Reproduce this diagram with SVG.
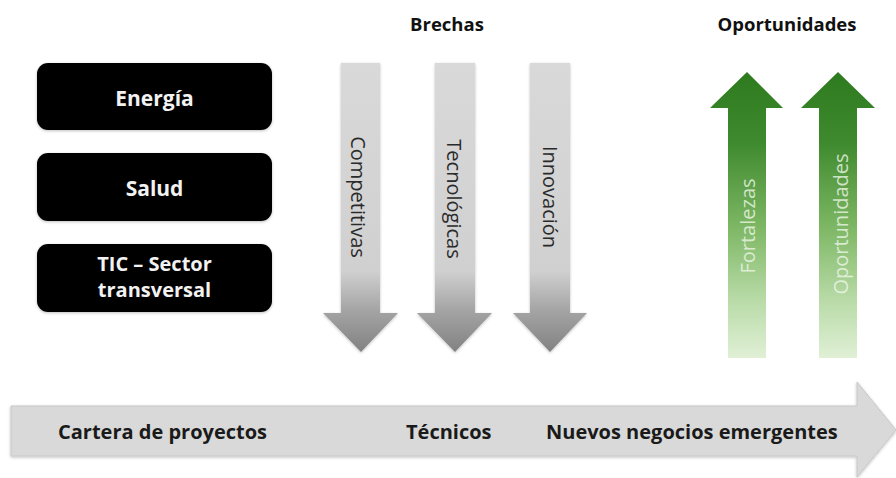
<svg xmlns="http://www.w3.org/2000/svg" width="896" height="478" viewBox="0 0 896 478">
  <style>
    .box { fill: #000000; }
    .boxtxt { font-family: "Open Sans", "Liberation Sans", sans-serif; font-weight: bold; font-size: 21px; fill: #f2f2f2; text-anchor: middle; }
    .boxtxt2 { font-family: "Open Sans", "Liberation Sans", sans-serif; font-weight: bold; font-size: 20px; fill: #f2f2f2; text-anchor: middle; }
    .title { font-family: "Open Sans", "Liberation Sans", sans-serif; font-weight: bold; font-size: 18.5px; fill: #111111; text-anchor: middle; }
    .lbl { font-family: "Open Sans", "Liberation Sans", sans-serif; font-weight: bold; font-size: 20px; fill: #1a1a1a; }
    .vgray { font-family: "Open Sans", "Liberation Sans", sans-serif; font-size: 20px; fill: #2a2a2a; text-anchor: middle; dominant-baseline: central; }
    .vgreen { font-family: "Open Sans", "Liberation Sans", sans-serif; font-size: 20px; fill: #eef7e8; fill-opacity: 0.8; text-anchor: middle; dominant-baseline: central; }
  </style>
  <defs>
    <linearGradient id="gGray" gradientUnits="userSpaceOnUse" x1="0" y1="63" x2="0" y2="352">
      <stop offset="0" stop-color="#d9d9d9"/>
      <stop offset="0.72" stop-color="#d0d0d0"/>
      <stop offset="0.86" stop-color="#a3a3a3"/>
      <stop offset="1" stop-color="#828282"/>
    </linearGradient>
    <linearGradient id="gGreen" gradientUnits="userSpaceOnUse" x1="0" y1="72" x2="0" y2="358">
      <stop offset="0" stop-color="#2e7a1f"/>
      <stop offset="0.25" stop-color="#3f8a2e"/>
      <stop offset="0.55" stop-color="#7fb866"/>
      <stop offset="0.8" stop-color="#b9dba8"/>
      <stop offset="1" stop-color="#e0f0d6"/>
    </linearGradient>
    <filter id="soft" x="-10%" y="-10%" width="120%" height="120%">
      <feGaussianBlur in="SourceAlpha" stdDeviation="1.5"/>
      <feOffset dx="0" dy="1" result="b"/>
      <feComponentTransfer><feFuncA type="linear" slope="0.25"/></feComponentTransfer>
      <feMerge><feMergeNode/><feMergeNode in="SourceGraphic"/></feMerge>
    </filter>
  </defs>

  <g id="node-energia">
    <rect class="box" x="37" y="63" width="235" height="67" rx="11" filter="url(#soft)"/>
    <text class="boxtxt" x="154.5" y="106">Energía</text>
  </g>
  <g id="node-salud">
    <rect class="box" x="37" y="153" width="235" height="68" rx="11" filter="url(#soft)"/>
    <text class="boxtxt" x="154.5" y="196">Salud</text>
  </g>
  <g id="node-tic">
    <rect class="box" x="37" y="244" width="235" height="68" rx="11" filter="url(#soft)"/>
    <text class="boxtxt2" x="154.5" y="271">TIC – Sector</text>
    <text class="boxtxt2" x="154.5" y="297">transversal</text>
  </g>

  <g id="title-brechas">
    <text class="title" x="447" y="31">Brechas</text>
  </g>
  <g id="title-oportunidades">
    <text class="title" x="787" y="31">Oportunidades</text>
  </g>

  <g id="connectors">
    <g id="arrow-competitivas">
      <polygon points="341,63 380,63 380,313 398,313 361,352 323,313 341,313" fill="url(#gGray)" filter="url(#soft)"/>
      <text class="vgray" transform="translate(358,197) rotate(90)">Competitivas</text>
    </g>
    <g id="arrow-tecnologicas">
      <polygon points="435,63 475,63 475,313 492,313 455,352 417,313 435,313" fill="url(#gGray)" filter="url(#soft)"/>
      <text class="vgray" transform="translate(454,199) rotate(90)">Tecnológicas</text>
    </g>
    <g id="arrow-innovacion">
      <polygon points="530,63 570,63 570,313 587,313 550,352 513,313 530,313" fill="url(#gGray)" filter="url(#soft)"/>
      <text class="vgray" transform="translate(550,197) rotate(90)">Innovación</text>
    </g>
    <g id="arrow-fortalezas">
      <polygon points="747,72 783,108 766,108 766,358 728,358 728,108 710,108" fill="url(#gGreen)"/>
      <text class="vgreen" transform="translate(747,226) rotate(-90)">Fortalezas</text>
    </g>
    <g id="arrow-oportunidades">
      <polygon points="838,72 875,108 857,108 857,358 819,358 819,108 801,108" fill="url(#gGreen)"/>
      <text class="vgreen" transform="translate(840,224) rotate(-90)">Oportunidades</text>
    </g>
    <g id="arrow-timeline">
      <polygon points="11,406 857,406 857,382 896,430 857,477 857,456 11,456" fill="#d9d9d9" stroke="#c8c8c8" stroke-width="1" filter="url(#soft)"/>
      <text class="lbl" x="58" y="439">Cartera de proyectos</text>
      <text class="lbl" x="406" y="439">Técnicos</text>
      <text class="lbl" x="546" y="439">Nuevos negocios emergentes</text>
    </g>
  </g>
</svg>
